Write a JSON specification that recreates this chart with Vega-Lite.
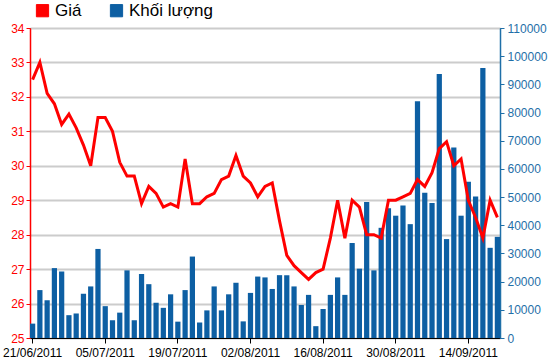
{
  "$schema": "https://vega.github.io/schema/vega-lite/v6.json",
  "width": 470,
  "height": 310,
  "autosize": "none",
  "padding": {"left": 30, "top": 28, "right": 50, "bottom": 26},
  "background": "white",
  "config": {
    "font": "Liberation Sans",
    "view": {"stroke": "#000000", "strokeWidth": 1}
  },
  "data": {
    "values": [
      {"date": "21/06/2011", "price": 32.5, "vol": 5100},
      {"date": "22/06/2011", "price": 33.0, "vol": 17000},
      {"date": "23/06/2011", "price": 32.1, "vol": 13400},
      {"date": "24/06/2011", "price": 31.8, "vol": 24800},
      {"date": "27/06/2011", "price": 31.2, "vol": 23600},
      {"date": "28/06/2011", "price": 31.5, "vol": 8100},
      {"date": "29/06/2011", "price": 31.1, "vol": 8700},
      {"date": "30/06/2011", "price": 30.6, "vol": 15700},
      {"date": "01/07/2011", "price": 30.0, "vol": 18300},
      {"date": "04/07/2011", "price": 31.4, "vol": 31600},
      {"date": "05/07/2011", "price": 31.4, "vol": 11300},
      {"date": "06/07/2011", "price": 31.0, "vol": 6300},
      {"date": "07/07/2011", "price": 30.1, "vol": 9000},
      {"date": "08/07/2011", "price": 29.7, "vol": 24000},
      {"date": "11/07/2011", "price": 29.7, "vol": 6300},
      {"date": "12/07/2011", "price": 28.9, "vol": 22700},
      {"date": "13/07/2011", "price": 29.4, "vol": 19100},
      {"date": "14/07/2011", "price": 29.2, "vol": 12500},
      {"date": "15/07/2011", "price": 28.8, "vol": 10700},
      {"date": "18/07/2011", "price": 28.9, "vol": 15500},
      {"date": "19/07/2011", "price": 28.8, "vol": 5800},
      {"date": "20/07/2011", "price": 30.2, "vol": 17000},
      {"date": "21/07/2011", "price": 28.9, "vol": 28900},
      {"date": "22/07/2011", "price": 28.9, "vol": 5500},
      {"date": "25/07/2011", "price": 29.1, "vol": 9800},
      {"date": "26/07/2011", "price": 29.2, "vol": 18300},
      {"date": "27/07/2011", "price": 29.6, "vol": 9800},
      {"date": "28/07/2011", "price": 29.7, "vol": 15500},
      {"date": "29/07/2011", "price": 30.3, "vol": 19600},
      {"date": "01/08/2011", "price": 29.7, "vol": 5900},
      {"date": "02/08/2011", "price": 29.5, "vol": 16000},
      {"date": "03/08/2011", "price": 29.1, "vol": 21800},
      {"date": "04/08/2011", "price": 29.4, "vol": 21500},
      {"date": "05/08/2011", "price": 29.5, "vol": 17400},
      {"date": "08/08/2011", "price": 28.4, "vol": 22300},
      {"date": "09/08/2011", "price": 27.4, "vol": 22300},
      {"date": "10/08/2011", "price": 27.1, "vol": 18300},
      {"date": "11/08/2011", "price": 26.9, "vol": 11700},
      {"date": "12/08/2011", "price": 26.7, "vol": 15300},
      {"date": "15/08/2011", "price": 26.9, "vol": 4200},
      {"date": "16/08/2011", "price": 27.0, "vol": 10300},
      {"date": "17/08/2011", "price": 27.9, "vol": 15300},
      {"date": "18/08/2011", "price": 29.0, "vol": 21500},
      {"date": "19/08/2011", "price": 27.9, "vol": 15300},
      {"date": "22/08/2011", "price": 29.0, "vol": 33700},
      {"date": "23/08/2011", "price": 28.8, "vol": 24600},
      {"date": "24/08/2011", "price": 28.0, "vol": 48300},
      {"date": "25/08/2011", "price": 28.0, "vol": 24000},
      {"date": "26/08/2011", "price": 27.9, "vol": 39100},
      {"date": "29/08/2011", "price": 29.0, "vol": 46000},
      {"date": "30/08/2011", "price": 29.0, "vol": 43400},
      {"date": "31/08/2011", "price": 29.1, "vol": 47000},
      {"date": "01/09/2011", "price": 29.2, "vol": 40400},
      {"date": "05/09/2011", "price": 29.6, "vol": 84000},
      {"date": "06/09/2011", "price": 29.4, "vol": 51500},
      {"date": "07/09/2011", "price": 29.8, "vol": 47900},
      {"date": "08/09/2011", "price": 30.5, "vol": 93700},
      {"date": "09/09/2011", "price": 30.7, "vol": 35100},
      {"date": "12/09/2011", "price": 30.0, "vol": 67600},
      {"date": "13/09/2011", "price": 30.2, "vol": 43400},
      {"date": "14/09/2011", "price": 29.0, "vol": 55400},
      {"date": "15/09/2011", "price": 28.5, "vol": 50200},
      {"date": "16/09/2011", "price": 27.9, "vol": 95800},
      {"date": "19/09/2011", "price": 29.0, "vol": 32000},
      {"date": "20/09/2011", "price": 28.5, "vol": 35900}
    ]
  },
  "encoding": {
    "x": {
      "field": "date",
      "type": "ordinal",
      "sort": null,
      "scale": {"paddingInner": 0.28, "paddingOuter": 0},
      "axis": {
        "title": null,
        "values": ["21/06/2011", "05/07/2011", "19/07/2011", "02/08/2011", "16/08/2011", "30/08/2011", "14/09/2011"],
        "labelAngle": 0,
        "labelColor": "#000000",
        "labelFontSize": 12,
        "labelPadding": 4,
        "tickColor": "#000000",
        "tickSize": 5,
        "domainColor": "#000000",
        "grid": false
      }
    }
  },
  "layer": [
    {
      "mark": {"type": "bar", "color": "#0d5fa3"},
      "encoding": {
        "y": {
          "field": "vol",
          "type": "quantitative",
          "scale": {"domain": [0, 110000], "nice": false},
          "axis": {
            "orient": "right",
            "title": null,
            "values": [0, 10000, 20000, 30000, 40000, 50000, 60000, 70000, 80000, 90000, 100000, 110000],
            "format": "d",
            "grid": false,
            "domainColor": "#1f6fa8",
            "domainWidth": 1.5,
            "tickColor": "#1f6fa8",
            "tickSize": 4,
            "labelColor": "#1f6fa8",
            "labelFontSize": 12,
            "labelPadding": 3
          }
        },
        "color": {
          "datum": "Khối lượng",
          "scale": {"domain": ["Giá", "Khối lượng"], "range": ["#ff0000", "#0d5fa3"]},
          "legend": {
            "title": null,
            "orient": "none",
            "direction": "horizontal",
            "legendX": 4,
            "legendY": -26,
            "symbolType": "square",
            "symbolSize": 150,
            "symbolStrokeColor": "#000000",
            "symbolStrokeWidth": 1,
            "symbolOpacity": 1,
            "labelFontSize": 17,
            "labelColor": "#000000",
            "columnPadding": 26,
            "labelOffset": 4,
            "encode": {
              "symbols": {"update": {"stroke": {"value": "#000000"}, "strokeWidth": {"value": 1}}}
            }
          }
        }
      }
    },
    {
      "mark": {"type": "line", "strokeWidth": 3, "interpolate": "linear"},
      "encoding": {
        "y": {
          "field": "price",
          "type": "quantitative",
          "scale": {"domain": [25, 34], "nice": false, "zero": false},
          "axis": {
            "orient": "left",
            "title": null,
            "values": [25, 26, 27, 28, 29, 30, 31, 32, 33, 34],
            "grid": true,
            "gridColor": "#cccccc",
            "gridWidth": 2,
            "domainColor": "#ff0000",
            "domainWidth": 1.5,
            "tickColor": "#ff0000",
            "tickSize": 4,
            "labelColor": "#ff0000",
            "labelFontSize": 12,
            "labelPadding": 2
          }
        },
        "color": {"datum": "Giá"}
      }
    }
  ],
  "resolve": {"scale": {"y": "independent"}}
}
